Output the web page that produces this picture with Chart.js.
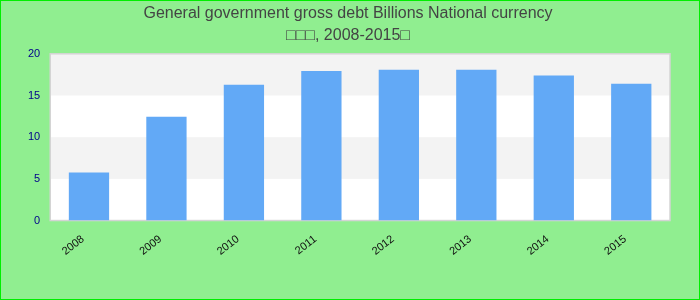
<!DOCTYPE html>
<html lang="en">
<head>
  <meta charset="UTF-8">
  <title>General government gross debt</title>
  <script src="https://cdn.jsdelivr.net/npm/chart.js"></script>
  <style>
    html, body { margin: 0; padding: 0; background: #90ee90; }
    .wrap { width: 700px; height: 300px; box-sizing: border-box; border: 1px solid #00ee00; }
  </style>
</head>
<body>
<div class="wrap"><canvas id="chart"></canvas></div>
<script>
  const years = ['2008', '2009', '2010', '2011', '2012', '2013', '2014', '2015'];
  const debt = [5.75, 12.45, 16.3, 17.95, 18.1, 18.1, 17.4, 16.4];
  const yTicks = [0, 5, 10, 15, 20];

  // white / light grey bands behind the bars, one per tick step
  const bands = {
    id: 'bands',
    beforeDatasetsDraw(chart) {
      const { ctx, chartArea: a, scales: { y } } = chart;
      ctx.save();
      ctx.fillStyle = '#ffffff';
      ctx.fillRect(a.left, a.top, a.right - a.left, a.bottom - a.top);
      for (let i = 0; i < yTicks.length - 1; i++) {
        if (i % 2 === 1) {
          const top = y.getPixelForValue(yTicks[i + 1]);
          const bot = y.getPixelForValue(yTicks[i]);
          ctx.fillStyle = '#f3f3f3';
          ctx.fillRect(a.left, top, a.right - a.left, bot - top);
        }
      }
      ctx.strokeStyle = '#d4d4d4';
      ctx.lineWidth = 1.5;
      ctx.strokeRect(a.left, a.top, a.right - a.left, a.bottom - a.top);
      ctx.restore();
    }
  };

  new Chart(document.getElementById('chart'), {
    type: 'bar',
    data: {
      labels: years,
      datasets: [{
        data: debt,
        backgroundColor: '#62a9f6',
        barPercentage: 0.52,
        categoryPercentage: 1
      }]
    },
    options: {
      responsive: true,
      maintainAspectRatio: false,
      animation: false,
      layout: { padding: { left: 25, right: 29, bottom: 37, top: 0 } },
      plugins: {
        legend: { display: false },
        tooltip: { enabled: false },
        title: {
          display: true,
          text: ['General government gross debt Billions National currency', '\u25a1\u25a1\u25a1, 2008-2015\u25a1'],
          color: '#444444',
          font: { family: 'Liberation Sans, Arial', size: 16, weight: 'normal', lineHeight: 1.4 },
          padding: { top: 1, bottom: 7 }
        }
      },
      scales: {
        x: {
          grid: { display: false },
          border: { display: false },
          ticks: {
            color: '#111111',
            font: { family: 'Liberation Sans', size: 11 },
            minRotation: 38,
            maxRotation: 38,
            labelOffset: -6,
            padding: 4
          }
        },
        y: {
          min: 0,
          max: 20,
          grid: { display: false },
          border: { display: false },
          afterBuildTicks(axis) { axis.ticks = yTicks.map(v => ({ value: v })); },
          ticks: {
            color: '#00008b',
            font: { family: 'Liberation Sans', size: 11 },
            padding: 2
          }
        }
      }
    },
    plugins: [bands]
  });
</script>
</body>
</html>
